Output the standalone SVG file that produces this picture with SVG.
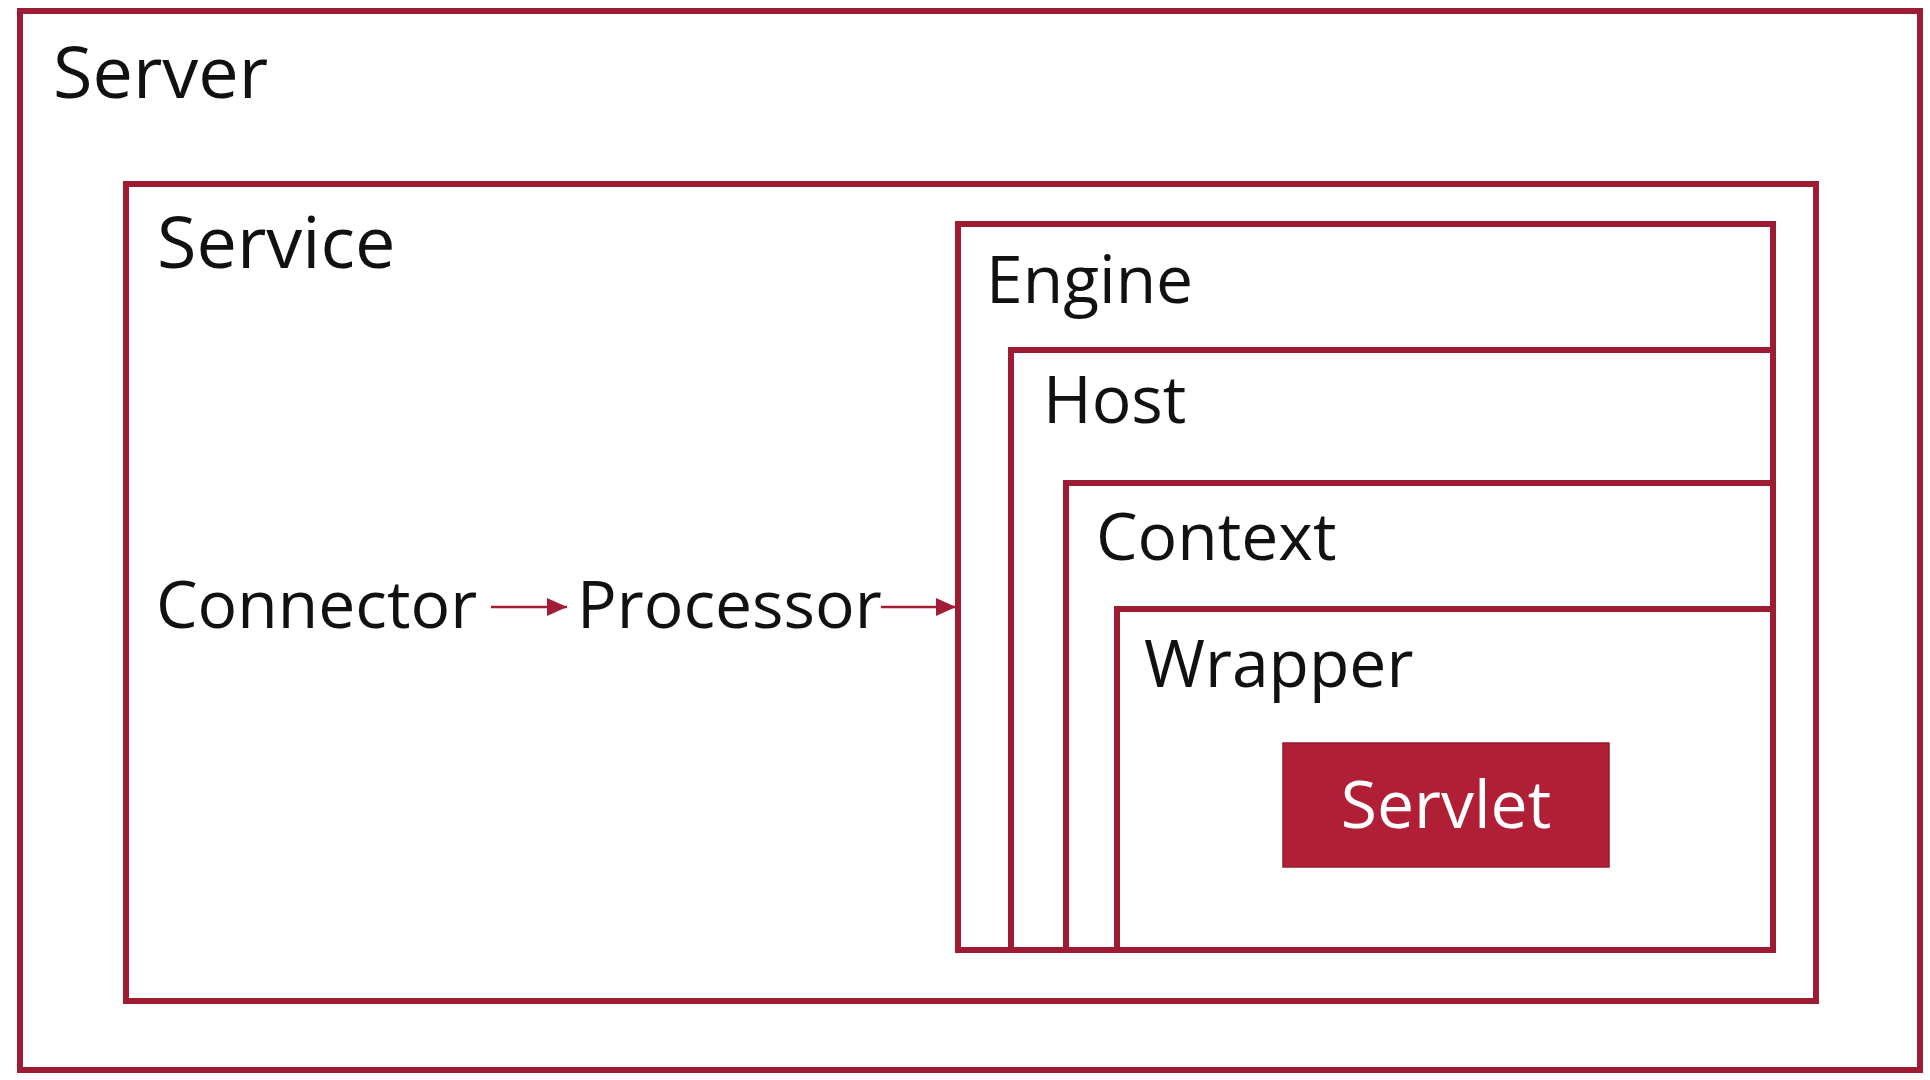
<svg xmlns="http://www.w3.org/2000/svg" width="1930" height="1080" viewBox="0 0 1930 1080">
  <style>
    .box { fill: none; stroke: #9e1b34; stroke-width: 6; }
    .lbl { font-family: "Open Sans", "Noto Sans", "DejaVu Sans", sans-serif; fill: #111; }
    .big { font-size: 72px; }
    .mid { font-size: 66px; }
    .conn { stroke: #a31c35; stroke-width: 2.5; fill: none; }
  </style>
  <defs>
    <marker id="arrow" markerUnits="userSpaceOnUse" markerWidth="22" markerHeight="20" refX="20" refY="10" orient="auto">
      <path d="M0,1 L20,10 L0,19 Z" fill="#a31c35"/>
    </marker>
  </defs>
  <rect x="0" y="0" width="1930" height="1080" fill="#ffffff"/>

  <g id="server">
    <rect class="box" x="20" y="11" width="1900" height="1059"/>
    <text class="lbl big" x="53" y="98">Server</text>
  </g>

  <g id="service">
    <rect class="box" x="126" y="184" width="1690" height="817"/>
    <text class="lbl big" x="157" y="268">Service</text>
    <text class="lbl mid" x="156" y="628">Connector</text>
    <text class="lbl mid" x="577" y="628">Processor</text>
  </g>

  <g id="engine">
    <rect class="box" x="958" y="224" width="815" height="726"/>
    <text class="lbl mid" x="986" y="303">Engine</text>
  </g>

  <g id="host">
    <rect class="box" x="1011" y="350" width="762" height="600"/>
    <text class="lbl mid" x="1043" y="423">Host</text>
  </g>

  <g id="context">
    <rect class="box" x="1066" y="483" width="707" height="467"/>
    <text class="lbl mid" x="1096" y="560">Context</text>
  </g>

  <g id="wrapper">
    <rect class="box" x="1117" y="609" width="656" height="341"/>
    <text class="lbl mid" x="1144" y="687">Wrapper</text>
  </g>

  <g id="servlet">
    <rect x="1283" y="743" width="326" height="124" fill="#b01f36" stroke="#9a1a2f" stroke-width="1.5"/>
    <text class="lbl mid" x="1446" y="828" text-anchor="middle" fill="#ffffff" style="fill:#ffffff">Servlet</text>
  </g>

  <g id="connectors">
    <line class="conn" x1="491" y1="607" x2="567" y2="607" marker-end="url(#arrow)"/>
    <line class="conn" x1="881" y1="607" x2="956" y2="607" marker-end="url(#arrow)"/>
  </g>
</svg>
